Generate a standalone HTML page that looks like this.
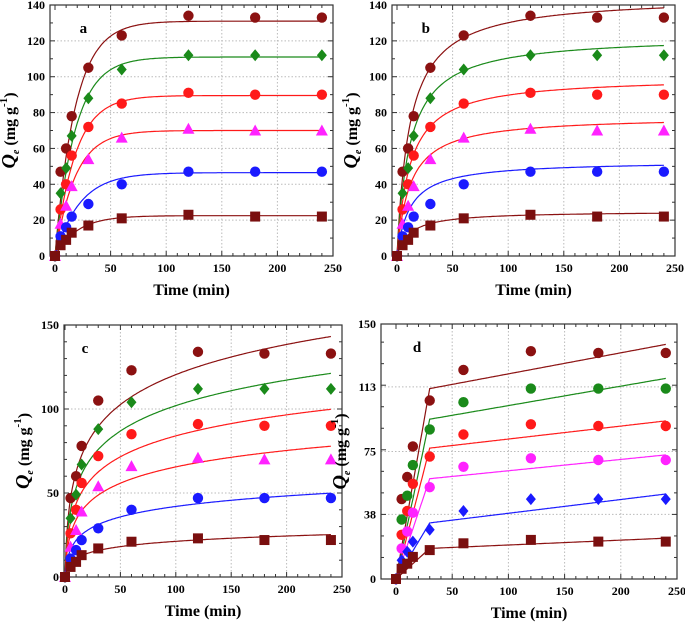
<!DOCTYPE html>
<html><head><meta charset="utf-8">
<style>
html,body{margin:0;padding:0;background:#fff;}
svg{display:block;font-family:"Liberation Serif",serif;font-weight:bold;}
</style></head>
<body>
<svg id="fig" width="685" height="627" viewBox="0 0 685 627" xmlns="http://www.w3.org/2000/svg"></svg>
<script>
const times = [0,5,10,15,30,60,120,180,240];
const sDarkred = [0,47,60,78,105,123,134,133,133];
const sGreen = [0,35,49,67,88,104,112,112,112];
const sRed = [0,26,40,56,72,85,91,90,90];
const sMagenta = [0,18,28,39,54,66,71,70,70];
const sBlue = [0,11,16,22,29,40,47,47,47];
const sSquare = [0,6,9,13,17,21,23,22,22];
// model parameters per panel (series order: darkred, green, red, magenta, blue, square)
const pfoQe = [131,111,89.5,70,46.5,22.5];
const pfoK = [0.055,0.055,0.055,0.055,0.045,0.05];
const psoQe = [145,123,100,78,53,25];
const psoQeK = 0.0874;
const elovA = [26.1,22.1,18.2,14.2,9.1,4.6];
const pwAt30 = [112,94,77,59,33,18];
const pwAt240 = [138,118,93,73,50,24];
const ticksA = [0,20,40,60,80,100,120,140];
const ticksC = [0,50,100,150];
const ticksD = [0,38,75,113,150];
const xTicks = [0,50,100,150,200,250];

const svg = document.getElementById('fig');
const NS = 'http://www.w3.org/2000/svg';
function mk(tag, attrs, parent){const e=document.createElementNS(NS,tag);for(const k in attrs)e.setAttribute(k,attrs[k]);(parent||svg).appendChild(e);return e;}

const colors = ['#8b1111','#1a8a1a','#ff1a1a','#ff22ff','#1a1aff','#7a0f0f'];
const lineColorsABC = ['#8b1111','#1a8a1a','#ff1a1a','#ff1a1a','#1a1aff','#8b1111'];
const lineColorsD = ['#8b1111','#1a8a1a','#ff1a1a','#ff22ff','#1a1aff','#8b1111'];
const series = [sDarkred,sGreen,sRed,sMagenta,sBlue,sSquare];
const names = ['series-1','series-2','series-3','series-4','series-5','series-6'];

function panel(cfg){
  const g = mk('g',{});
  
  
  const X = v => cfg.x0 + (cfg.x1-cfg.x0)*v/250;
  const Y = v => cfg.y0 - (cfg.y0-cfg.yTop)*v/cfg.ymax;
  xTicks.slice(1,-1).forEach(t=>{const l=mk('line',{x1:X(t),x2:X(t),y1:Y(cfg.ymax),y2:Y(0),stroke:'#bbb','stroke-dasharray':'1.5,2','stroke-width':1},g);});
  cfg.yt.slice(1,-1).forEach(t=>{const l=mk('line',{x1:cfg.fl,x2:X(250),y1:Y(t),y2:Y(t),stroke:'#bbb','stroke-dasharray':'1.5,2','stroke-width':1},g);});
  const fr=mk('rect',{x:cfg.fl,y:Y(cfg.ymax),width:X(250)-cfg.fl,height:Y(0)-Y(cfg.ymax),fill:'none',stroke:'#333','stroke-width':1.2},g);
  
  for(let t=0;t<=250;t+=10){const L=t%50===0?5:3;mk('line',{x1:X(t),x2:X(t),y1:Y(0),y2:Y(0)-L,stroke:'#333'},g);mk('line',{x1:X(t),x2:X(t),y1:Y(cfg.ymax),y2:Y(cfg.ymax)+L,stroke:'#333'},g);}
  const ystep=(cfg.yt[1]-cfg.yt[0])/(cfg.minor);
  for(let i=0;i*ystep<=cfg.ymax+0.01;i++){const t=i*ystep;const L=i%cfg.minor===0?5:3;mk('line',{x1:cfg.fl,x2:cfg.fl+L,y1:Y(t),y2:Y(t),stroke:'#333'},g);mk('line',{x1:X(250),x2:X(250)-L,y1:Y(t),y2:Y(t),stroke:'#333'},g);}
  xTicks.forEach(t=>{const tx=mk('text',{x:X(t),y:Y(0)+16,'text-anchor':'middle','font-size':12},g);tx.textContent=t;});
  cfg.yt.forEach(t=>{const tx=mk('text',{x:cfg.fl-5,y:Y(t)+4,'text-anchor':'end','font-size':12},g);tx.textContent=t;});
  const xt=mk('text',{x:(cfg.fl+X(250))/2,y:Y(0)+39,'text-anchor':'middle','font-size':16},g);xt.textContent='Time (min)';
  
  const yx=cfg.fl-35, yy=(Y(0)+Y(cfg.ymax))/2;
  const ytt=mk('text',{transform:`translate(${yx},${yy}) rotate(-90)`,'text-anchor':'middle','font-size':16},g);
  ytt.innerHTML='<tspan font-style="italic" font-size="20">Q</tspan><tspan font-size="10" dy="4" font-style="italic">e</tspan><tspan dy="-4"> (mg g</tspan><tspan font-size="11" dy="-8">-1</tspan><tspan dy="8">)</tspan>';
  
  const lb=mk('text',{x:X(250*0.06)+ (cfg.label==='a'||cfg.label==='b'?8:0),y:Y(cfg.ymax)+28,'font-size':15},g);lb.textContent=cfg.label;
  
  series.forEach((s,i)=>{
    let d='';
    for(let t=0;t<=240;t+=1){const q=cfg.model(i,t);d+=(t?'L':'M')+X(t).toFixed(1)+','+Y(q).toFixed(1);}
    const p=mk('path',{d:d,fill:'none',stroke:cfg.lcol[i],'stroke-width':1.2},g);
    
  });
  series.forEach((s,i)=>{
    const shape=cfg.shapes[i];
    s.forEach((v,j)=>{
      const cx=X(times[j]),cy=Y(v);let m;
      if(shape==='c') m=mk('circle',{cx:cx,cy:cy,r:5.2,fill:cfg.mcol[i]},g);
      else if(shape==='s') m=mk('rect',{x:cx-5,y:cy-5,width:10,height:10,fill:cfg.mcol[i]},g);
      else if(shape==='d') m=mk('polygon',{points:`${cx},${cy-6} ${cx+5},${cy} ${cx},${cy+6} ${cx-5},${cy}`,fill:cfg.mcol[i]},g);
      else m=mk('polygon',{points:`${cx},${cy-6} ${cx+6},${cy+5} ${cx-6},${cy+5}`,fill:cfg.mcol[i]},g);
      
      
    });
  });
}
const shapesABC=['c','d','c','t','c','s'];
panel({label:'a',x0:55,x1:333,fl:50,y0:256,yTop:5,ymax:140,yt:ticksA,minor:2,shapes:shapesABC,mcol:colors,lcol:lineColorsABC,
  model:(i,t)=>pfoQe[i]*(1-Math.exp(-pfoK[i]*t))});
panel({label:'b',x0:397,x1:675,fl:392,y0:256,yTop:5,ymax:140,yt:ticksA,minor:2,shapes:shapesABC,mcol:colors,lcol:lineColorsABC,
  model:(i,t)=>{const u=psoQeK*t;return psoQe[i]*u/(1+u);}});
panel({label:'c',x0:65,x1:342,fl:64,y0:577,yTop:325,ymax:150,yt:ticksC,minor:5,shapes:shapesABC,mcol:colors,lcol:lineColorsABC,
  model:(i,t)=>elovA[i]*Math.log(1+t)});
panel({label:'d',x0:396,x1:677,fl:381,y0:579,yTop:324,ymax:150,yt:ticksD,minor:3,shapes:['c','c','c','c','d','s'],
  mcol:colors,lcol:lineColorsD,
  model:(i,t)=>t<=30?pwAt30[i]*t/30:pwAt30[i]+(pwAt240[i]-pwAt30[i])*(t-30)/210});
</script>
</body></html>
